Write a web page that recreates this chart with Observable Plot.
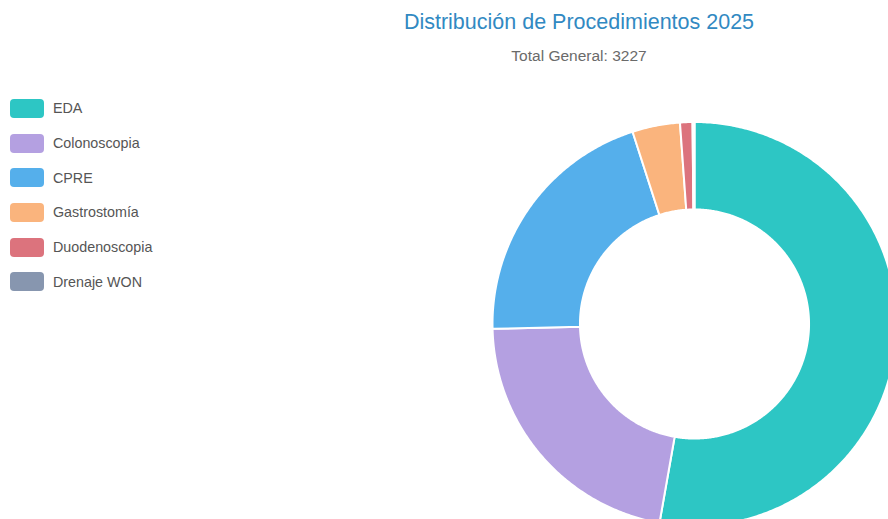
<!DOCTYPE html>
<html>
<head>
<meta charset="utf-8">
<script src="https://cdn.jsdelivr.net/npm/d3@7"></script>
<script src="https://cdn.jsdelivr.net/npm/@observablehq/plot@0.6"></script>
<style>
  html, body { margin: 0; padding: 0; background: #fff; }
  body { font-family: "Liberation Sans", Arial, Helvetica, sans-serif; }
  #wrap { position: relative; width: 888px; height: 519px; overflow: hidden; }
  #chart { position: absolute; left: 0; top: 0; }
  #title { position: absolute; left: 329px; width: 500px; top: 10px; text-align: center;
           font-size: 21.5px; color: #3189c2; white-space: nowrap; }
  #subtitle { position: absolute; left: 379px; width: 400px; top: 47px; text-align: center;
              font-size: 15.5px; color: #6a6a6a; }
  #legend { position: absolute; left: 10px; top: 91px; }
  .item { display: flex; align-items: center; height: 34.7px; margin-top: 0; }
  .sw { width: 34px; height: 19px; border-radius: 4px; margin-right: 9px; }
  .lab { font-size: 14.3px; color: #555; }
</style>
</head>
<body>
<div id="wrap">
  <div id="chart"></div>
  <div id="title">Distribución de Procedimientos 2025</div>
  <div id="subtitle">Total General: 3227</div>
  <div id="legend"></div>
</div>
<script>
const categories = ["EDA", "Colonoscopia", "CPRE", "Gastrostomía", "Duodenoscopia", "Drenaje WON"];
const values = [1703, 705, 659, 123, 32, 5];
const colors = ["#2dc6c4", "#b4a0e1", "#55afeb", "#fab47d", "#dc737d", "#8796af"];

const innerRatio = 0.567;

// angles from the data via d3.pie (clockwise from 12 o'clock)
const arcs = d3.pie().sort(null).value(d => d.value)(
  categories.map((c, i) => ({ label: c, value: values[i] }))
);

const pts = [];
for (const a of arcs) {
  const n = Math.max(2, Math.ceil((a.endAngle - a.startAngle) / (Math.PI / 360)));
  for (let k = 0; k <= n; k++) {
    const t = a.startAngle + (a.endAngle - a.startAngle) * k / n;
    pts.push({ label: a.data.label, x: Math.sin(t), y: Math.cos(t) });
  }
  for (let k = n; k >= 0; k--) {
    const t = a.startAngle + (a.endAngle - a.startAngle) * k / n;
    pts.push({ label: a.data.label, x: innerRatio * Math.sin(t), y: innerRatio * Math.cos(t) });
  }
}

const cx = 694, cy = 323.5, R = 202;
const chart = Plot.plot({
  width: 888,
  height: 519,
  margin: 0,
  x: { domain: [-1, 1], range: [cx - R, cx + R], axis: null },
  y: { domain: [-1, 1], range: [cy + R, cy - R], axis: null },
  color: { domain: categories, range: colors },
  marks: [
    Plot.line(pts, {
      x: "x", y: "y", z: "label", fill: "label",
      stroke: "white", strokeWidth: 2, strokeLinejoin: "round",
      curve: "linear-closed"
    })
  ]
});
document.getElementById("chart").appendChild(chart);

const legend = document.getElementById("legend");
categories.forEach((c, i) => {
  const it = document.createElement("div");
  it.className = "item";
  const sw = document.createElement("div");
  sw.className = "sw";
  sw.style.background = colors[i];
  const lab = document.createElement("span");
  lab.className = "lab";
  lab.textContent = c;
  it.appendChild(sw);
  it.appendChild(lab);
  legend.appendChild(it);
});
</script>
</body>
</html>
